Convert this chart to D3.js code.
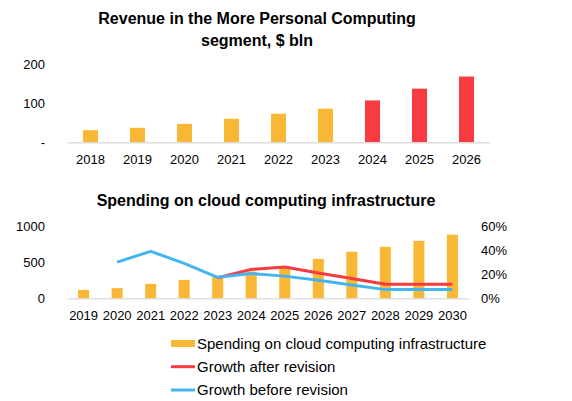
<!DOCTYPE html>
<html><head><meta charset="utf-8">
<script src="https://cdn.jsdelivr.net/npm/d3@7"></script>
<style>
body{margin:0;background:#fff;}
svg text{font-family:"Liberation Sans",Arial,sans-serif;fill:#000;}
</style></head>
<body><svg id="c" width="572" height="401"></svg>
<script>
// Top chart data
const revYears = ["2018","2019","2020","2021","2022","2023","2024","2025","2026"];
const revValues = [31, 37, 47, 60, 73, 86, 107, 137, 168];
const revForecast = [false,false,false,false,false,false,true,true,true];
const revTicks = [0, 100, 200];

// Bottom chart data
const cloudYears = ["2019","2020","2021","2022","2023","2024","2025","2026","2027","2028","2029","2030"];
const cloudSpending = [115, 140, 200, 255, 300, 370, 440, 545, 645, 712, 795, 880];
const growthAfter = [null, null, null, null, 17, 24, 26, 21, 16.5, 11.6, 11.6, 11.6];
const growthBefore = [null, 30, 39, 29, 17.4, 20.5, 18.4, 15, 11, 7.2, 7.2, 7.2];
const leftTicks = [0, 500, 1000];
const rightTicks = [0, 20, 40, 60];
const legendLabels = ["Spending on cloud computing infrastructure","Growth after revision","Growth before revision"];

const ORANGE = "#F8B836", RED = "#F83A41", BLUE = "#44B4F1", AXIS = "#d9d9d9";
const svg = d3.select("#c");

// ---------- Top chart ----------
svg.append("text").attr("x",257).attr("y",24).attr("text-anchor","middle")
  .style("font-weight","bold").style("font-size","16px")
  .text("Revenue in the More Personal Computing");
svg.append("text").attr("x",257).attr("y",46).attr("text-anchor","middle")
  .style("font-weight","bold").style("font-size","16px")
  .text("segment, $ bln");

const x1 = d3.scaleBand().domain(revYears).range([67,490]).paddingInner(0.68).paddingOuter(0.34);
const y1 = d3.scaleLinear().domain([0,200]).range([142.3,64]);

svg.append("g").selectAll("rect").data(revYears).join("rect")
  .attr("x",d=>x1(d)).attr("width",x1.bandwidth())
  .attr("y",(d,i)=>y1(revValues[i])).attr("height",(d,i)=>y1(0)-y1(revValues[i]))
  .attr("fill",(d,i)=>revForecast[i]?RED:ORANGE);

const ax1 = svg.append("g").attr("transform","translate(0,142.3)")
  .call(d3.axisBottom(x1).tickSize(0).tickPadding(12));
ax1.select(".domain").attr("stroke",AXIS).attr("stroke-width",1.3);
ax1.selectAll("text").style("font-size","13px");

const ay1 = svg.append("g").attr("transform","translate(45,0)")
  .call(d3.axisLeft(y1).tickValues(revTicks).tickSize(0).tickPadding(0)
    .tickFormat(d=>d===0?"-":String(d)));
ay1.select(".domain").remove();
ay1.selectAll("text").style("font-size","13px");

// ---------- Bottom chart ----------
svg.append("text").attr("x",266).attr("y",206).attr("text-anchor","middle")
  .style("font-weight","bold").style("font-size","16px")
  .text("Spending on cloud computing infrastructure");

const x2 = d3.scaleBand().domain(cloudYears).range([67,469]).paddingInner(0.67).paddingOuter(0.33);
const y2 = d3.scaleLinear().domain([0,1000]).range([298.3,226]);
const y2r = d3.scaleLinear().domain([0,60]).range([298.3,226]);

svg.append("g").selectAll("rect").data(cloudYears).join("rect")
  .attr("x",d=>x2(d)).attr("width",x2.bandwidth())
  .attr("y",(d,i)=>y2(cloudSpending[i])).attr("height",(d,i)=>y2(0)-y2(cloudSpending[i]))
  .attr("fill",ORANGE);

const ax2 = svg.append("g").attr("transform","translate(0,298.3)")
  .call(d3.axisBottom(x2).tickSize(0).tickPadding(12));
ax2.select(".domain").attr("stroke",AXIS).attr("stroke-width",1.3);
ax2.selectAll("text").style("font-size","13px");

const ay2 = svg.append("g").attr("transform","translate(45,0)")
  .call(d3.axisLeft(y2).tickValues(leftTicks).tickSize(0).tickPadding(0).tickFormat(d=>String(d)));
ay2.select(".domain").remove();
ay2.selectAll("text").style("font-size","13px");

const ay2r = svg.append("g").attr("transform","translate(481,0)")
  .call(d3.axisRight(y2r).tickValues(rightTicks).tickSize(0).tickPadding(0).tickFormat(d=>d+"%"));
ay2r.select(".domain").remove();
ay2r.selectAll("text").style("font-size","13px");

const lineGen = d3.line().defined(d=>d[1]!==null)
  .x(d=>x2(d[0])+x2.bandwidth()/2).y(d=>y2r(d[1]));
svg.append("path").datum(cloudYears.map((y,i)=>[y,growthAfter[i]]))
  .attr("d",lineGen).attr("fill","none").attr("stroke",RED).attr("stroke-width",3).attr("stroke-linejoin","round");
svg.append("path").datum(cloudYears.map((y,i)=>[y,growthBefore[i]]))
  .attr("d",lineGen).attr("fill","none").attr("stroke",BLUE).attr("stroke-width",3).attr("stroke-linejoin","round");

// ---------- Legend ----------
const legY = [343.5, 366.7, 390];
const leg = svg.append("g");
leg.append("rect").attr("x",171).attr("y",legY[0]-3.5).attr("width",24).attr("height",7).attr("fill",ORANGE);
leg.append("line").attr("x1",171).attr("x2",195).attr("y1",legY[1]).attr("y2",legY[1]).attr("stroke",RED).attr("stroke-width",3);
leg.append("line").attr("x1",171).attr("x2",195).attr("y1",legY[2]).attr("y2",legY[2]).attr("stroke",BLUE).attr("stroke-width",3);
leg.selectAll("text.l").data(legendLabels).join("text").attr("class","l")
  .attr("x",197).attr("y",(d,i)=>legY[i]).attr("dy","0.35em")
  .style("font-size","15px").text(d=>d);
</script></body></html>
